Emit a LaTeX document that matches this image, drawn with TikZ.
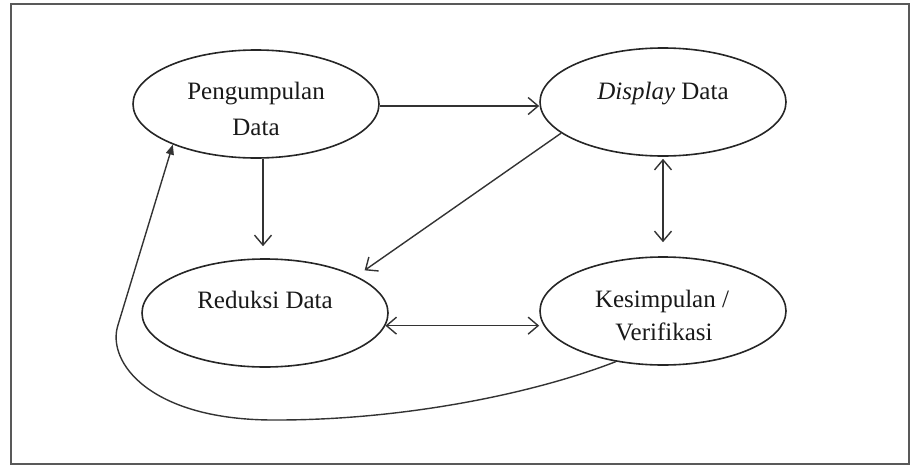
\documentclass[tikz,border=0pt]{standalone}
\usepackage{fontspec}
\setmainfont{Liberation Serif}
\usetikzlibrary{shapes.geometric,arrows.meta,calc}
\begin{document}
\begin{tikzpicture}[x=1pt,y=-1pt,
  frame/.style={draw=black!65,line width=1.8pt},
  stage/.style={ellipse,draw=black!85,line width=1.6pt,fill=white,
    minimum width=246pt,minimum height=108pt,inner sep=0pt},
  lbl/.style={font=\fontsize{25}{30}\selectfont,text=black!90,anchor=base,inner sep=0pt},
  flow/.style={draw=black!80,line width=1.4pt,
    -{Straight Barb[length=10pt,width=17pt,line width=1.4pt]}},
  both/.style={draw=black!80,line width=1.4pt,
    {Straight Barb[length=10pt,width=17pt,line width=1.4pt]}-{Straight Barb[length=10pt,width=17pt,line width=1.4pt]}},
  loopback/.style={draw=black!80,line width=1.4pt,-{Triangle[length=10pt,width=8pt]}}
]
\useasboundingbox (0,0) rectangle (911,466);
\draw[frame] (11,4) rectangle (909,464);

% the four stages
\node[stage] (pd) at (256,104) {};
\node[stage] (dd) at (663,102) {};
\node[stage] (rd) at (265,313) {};
\node[stage] (kv) at (663,311) {};

% stage texts
\node[lbl] (pdA) at (256,99) {Pengumpulan};
\node[lbl] (pdB) at (256,135) {Data};
\node[lbl] (ddA) at (663,99) {\textit{Display} Data};
\node[lbl] (rdA) at (265,308) {Reduksi Data};
\node[lbl] (kvA) at (662,307) {Kesimpulan /};
\node[lbl] (kvB) at (664,340) {Verifikasi};

% connectors
\draw[flow] ([yshift=-2pt]pd.east) -- ([yshift=-2pt]pd.east -| dd.west);
\draw[flow,shorten >=12pt] ([xshift=7pt]pd.south) -- ([xshift=7pt]pd.south |- rd.north);
\draw[flow,shorten >=10pt] (dd.197) -- (rd.22.5);
\draw[both,shorten >=14pt,shorten <=2pt] (dd.south) -- (kv.north);
\draw[both] (rd.-6) -- (rd.-6 -| kv.west);

% feedback loop back to data collection
\draw[loopback] (kv.227) .. controls (530,395) and (400,420) .. (277,420)
  .. controls (150,421) and (106,362) .. (118,325) -- (pd.206);
\end{tikzpicture}
\end{document}
